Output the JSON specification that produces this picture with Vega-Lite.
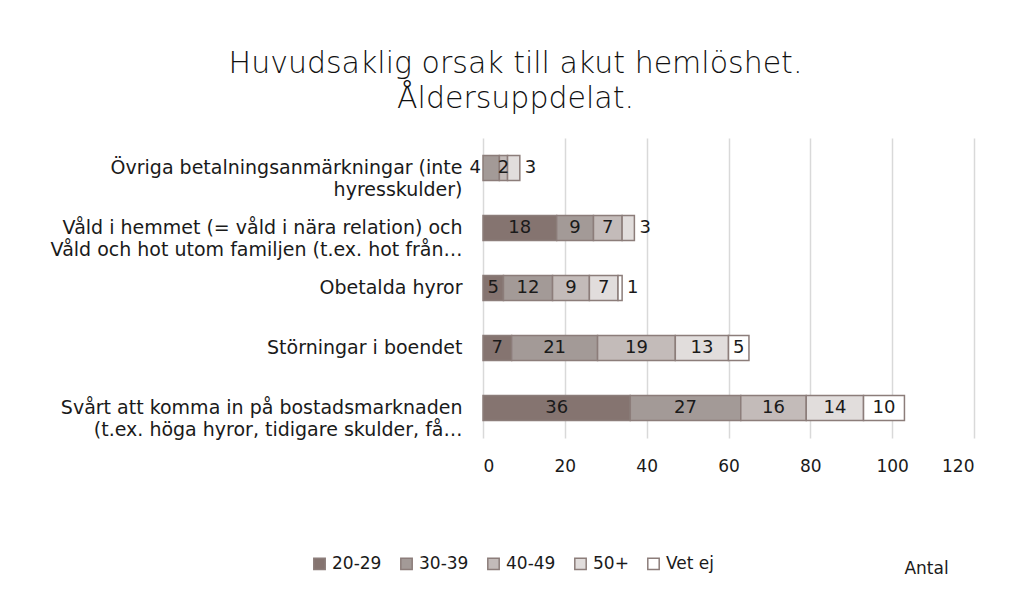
{
  "$schema": "https://vega.github.io/schema/vega-lite/v6.json",
  "width": 491,
  "height": 300,
  "autosize": {"type": "none"},
  "padding": {"left": 483, "top": 138, "right": 37, "bottom": 159},
  "background": "white",
  "config": {"view": {"stroke": null}, "font": "DejaVu Sans"},
  "title": {
    "text": ["Huvudsaklig orsak till akut hemlöshet.", "Åldersuppdelat."],
    "anchor": "middle",
    "frame": "group",
    "dx": -213,
    "font": "DejaVu Sans",
    "fontWeight": 200,
    "fontSize": 30,
    "lineHeight": 35,
    "color": "#111111",
    "offset": 24
  },
  "data": {
    "values": [
      {"cat": "Övriga betalningsanmärkningar (inte|hyresskulder)", "age": "30-39", "n": 4},
      {"cat": "Övriga betalningsanmärkningar (inte|hyresskulder)", "age": "40-49", "n": 2},
      {"cat": "Övriga betalningsanmärkningar (inte|hyresskulder)", "age": "50+", "n": 3},
      {"cat": "Våld i hemmet (= våld i nära relation) och|Våld och hot utom familjen (t.ex. hot från…", "age": "20-29", "n": 18},
      {"cat": "Våld i hemmet (= våld i nära relation) och|Våld och hot utom familjen (t.ex. hot från…", "age": "30-39", "n": 9},
      {"cat": "Våld i hemmet (= våld i nära relation) och|Våld och hot utom familjen (t.ex. hot från…", "age": "40-49", "n": 7},
      {"cat": "Våld i hemmet (= våld i nära relation) och|Våld och hot utom familjen (t.ex. hot från…", "age": "50+", "n": 3},
      {"cat": "Obetalda hyror", "age": "20-29", "n": 5},
      {"cat": "Obetalda hyror", "age": "30-39", "n": 12},
      {"cat": "Obetalda hyror", "age": "40-49", "n": 9},
      {"cat": "Obetalda hyror", "age": "50+", "n": 7},
      {"cat": "Obetalda hyror", "age": "Vet ej", "n": 1},
      {"cat": "Störningar i boendet", "age": "20-29", "n": 7},
      {"cat": "Störningar i boendet", "age": "30-39", "n": 21},
      {"cat": "Störningar i boendet", "age": "40-49", "n": 19},
      {"cat": "Störningar i boendet", "age": "50+", "n": 13},
      {"cat": "Störningar i boendet", "age": "Vet ej", "n": 5},
      {"cat": "Svårt att komma in på bostadsmarknaden|(t.ex. höga hyror, tidigare skulder, få…", "age": "20-29", "n": 36},
      {"cat": "Svårt att komma in på bostadsmarknaden|(t.ex. höga hyror, tidigare skulder, få…", "age": "30-39", "n": 27},
      {"cat": "Svårt att komma in på bostadsmarknaden|(t.ex. höga hyror, tidigare skulder, få…", "age": "40-49", "n": 16},
      {"cat": "Svårt att komma in på bostadsmarknaden|(t.ex. höga hyror, tidigare skulder, få…", "age": "50+", "n": 14},
      {"cat": "Svårt att komma in på bostadsmarknaden|(t.ex. höga hyror, tidigare skulder, få…", "age": "Vet ej", "n": 10}
    ]
  },
  "transform": [
    {"stack": "n", "groupby": ["cat"], "sort": [{"field": "age", "order": "ascending"}], "as": ["x0", "x1"]},
    {"joinaggregate": [{"op": "max", "field": "x1", "as": "tot"}], "groupby": ["cat"]},
    {"calculate": "(datum.x0 + datum.x1) / 2", "as": "mid"},
    {"calculate": "datum.x1 == datum.tot && datum.n <= 3 ? 'right' : (datum.x0 == 0 && datum.tot < 10 ? 'left' : 'in')", "as": "pos"}
  ],
  "encoding": {
    "y": {
      "field": "cat",
      "type": "nominal",
      "sort": [
        "Övriga betalningsanmärkningar (inte|hyresskulder)",
        "Våld i hemmet (= våld i nära relation) och|Våld och hot utom familjen (t.ex. hot från…",
        "Obetalda hyror",
        "Störningar i boendet",
        "Svårt att komma in på bostadsmarknaden|(t.ex. höga hyror, tidigare skulder, få…"
      ],
      "scale": {"paddingInner": 0.58, "paddingOuter": 0.29},
      "axis": {
        "title": null,
        "domain": false,
        "ticks": false,
        "labelPadding": 21,
        "labelFontSize": 19,
        "labelColor": "#1a1a1a",
        "labelLimit": 600,
        "labelLineHeight": 22,
        "labelExpr": "split(datum.label, '|')"
      }
    }
  },
  "layer": [
    {
      "mark": {"type": "bar", "stroke": "#8c7d7a", "strokeWidth": 1.5},
      "encoding": {
        "x": {
          "field": "x0",
          "type": "quantitative",
          "scale": {"domain": [0, 120]},
          "axis": {
            "values": [0, 20, 40, 60, 80, 100, 120],
            "grid": true,
            "gridColor": "#d9d9d9",
            "gridWidth": 1.5,
            "domain": false,
            "ticks": false,
            "labelPadding": 20,
            "labelFontSize": 17,
            "labelColor": "#1a1a1a",
            "title": "Antal",
            "titleFontSize": 17,
            "titleFontWeight": "normal",
            "titleColor": "#1a1a1a",
            "titleAnchor": null,
            "titleX": 443,
            "titleY": 130,
            "titleAlign": "center",
            "titleBaseline": "middle"
          }
        },
        "x2": {"field": "x1"},
        "color": {
          "field": "age",
          "type": "nominal",
          "scale": {
            "domain": ["20-29", "30-39", "40-49", "50+", "Vet ej"],
            "range": ["#857470", "#a39a97", "#c3bbb9", "#e1dddc", "#ffffff"]
          },
          "legend": {
            "title": null,
            "orient": "none",
            "direction": "horizontal",
            "legendX": -172,
            "legendY": 417,
            "symbolType": "square",
            "symbolSize": 130,
            "symbolStrokeColor": "#8c7d7a",
            "symbolStrokeWidth": 1.5,
            "symbolOpacity": 1,
            "labelFontSize": 17,
            "labelColor": "#1a1a1a",
            "labelOffset": 4,
            "columnPadding": 15
          }
        }
      }
    },
    {
      "transform": [{"filter": "datum.pos == 'in'"}],
      "mark": {"type": "text", "fontSize": 18, "color": "#1a1a1a", "align": "center", "baseline": "middle"},
      "encoding": {
        "x": {"field": "mid", "type": "quantitative"},
        "text": {"field": "n", "type": "quantitative"}
      }
    },
    {
      "transform": [{"filter": "datum.pos == 'right'"}],
      "mark": {"type": "text", "fontSize": 18, "color": "#1a1a1a", "align": "left", "baseline": "middle", "dx": 5},
      "encoding": {
        "x": {"field": "x1", "type": "quantitative"},
        "text": {"field": "n", "type": "quantitative"}
      }
    },
    {
      "transform": [{"filter": "datum.pos == 'left'"}],
      "mark": {"type": "text", "fontSize": 18, "color": "#1a1a1a", "align": "right", "baseline": "middle", "dx": -2},
      "encoding": {
        "x": {"field": "x0", "type": "quantitative"},
        "text": {"field": "n", "type": "quantitative"}
      }
    }
  ]
}
